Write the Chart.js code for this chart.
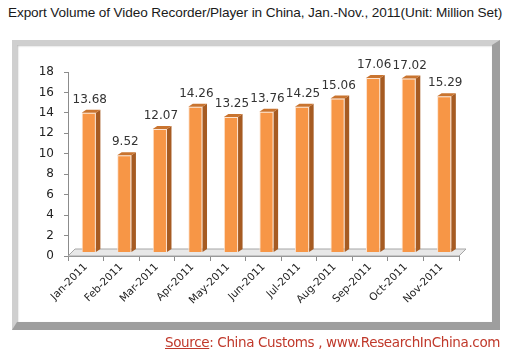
<!DOCTYPE html>
<html><head><meta charset="utf-8">
<script src="https://cdn.jsdelivr.net/npm/chart.js@4"></script>
<style>
html,body{margin:0;padding:0;background:#fff;width:510px;height:356px;overflow:hidden;}
#title{position:absolute;left:8px;top:5px;font:13.6px "Liberation Sans",Arial,sans-serif;color:#1a1a1a;white-space:nowrap;letter-spacing:-0.1px;}
#frame{position:absolute;left:12px;top:40px;width:475px;height:277px;background:#fff;
 border-left:5px solid #cfcfcf;border-top:5px solid #cfcfcf;border-right:8px solid #9e9e9e;border-bottom:8px solid #9e9e9e;
 box-shadow: inset 1px 1px 2px #bdbdbd;}
#src{position:absolute;left:165px;top:334px;font:13.5px "DejaVu Sans",sans-serif;color:#c0392b;white-space:nowrap;letter-spacing:-0.36px;}
#src u{text-decoration:underline;}
#wrap{position:absolute;left:0;top:0;width:510px;height:356px;}
</style></head>
<body>
<div id="title">Export Volume of Video Recorder/Player in China, Jan.-Nov., 2011(Unit: Million Set)</div>
<div id="frame"></div>
<div id="wrap"><canvas id="c" width="510" height="356"></canvas></div>
<div id="src"><u>Source</u>: China Customs , www.ResearchInChina.com</div>
<script>
const categories = ["Jan-2011","Feb-2011","Mar-2011","Apr-2011","May-2011","Jun-2011","Jul-2011","Aug-2011","Sep-2011","Oct-2011","Nov-2011"];
const exportVolume = [13.68, 9.52, 12.07, 14.26, 13.25, 13.76, 14.25, 15.06, 17.06, 17.02, 15.29];
const yTicks = [0,2,4,6,8,10,12,14,16,18];

const DX = 3, DY = 3.5, SIDE = 4.5, TOPH = 3;

const floorPlugin = {
  id: 'floor',
  beforeDatasetsDraw(chart) {
    const a = chart.chartArea, ctx = chart.ctx;
    ctx.save();
    ctx.beginPath();
    ctx.moveTo(a.left, a.bottom);
    ctx.lineTo(a.right, a.bottom);
    ctx.lineTo(a.right + 7, a.bottom - 7);
    ctx.lineTo(a.left + 7, a.bottom - 7);
    ctx.closePath();
    ctx.fillStyle = '#e8e8e8';
    ctx.fill();
    ctx.strokeStyle = '#a6a6a6';
    ctx.lineWidth = 1;
    ctx.stroke();
    ctx.restore();
    ctx.save();
    ctx.translate(DX, -DY);
  },
  afterDatasetsDraw(chart) {
    const ctx = chart.ctx;
    const meta = chart.getDatasetMeta(0);
    meta.data.forEach((bar, i) => {
      const p = bar.getProps(['x','y','base','width'], true);
      const l = p.x - p.width/2, r = p.x + p.width/2;
      ctx.beginPath();
      ctx.moveTo(r, p.y);
      ctx.lineTo(r + SIDE, p.y - TOPH);
      ctx.lineTo(r + SIDE, p.base - TOPH);
      ctx.lineTo(r, p.base);
      ctx.closePath();
      ctx.fillStyle = '#a65b22';
      ctx.fill();
      ctx.beginPath();
      ctx.moveTo(l, p.y);
      ctx.lineTo(l + SIDE, p.y - TOPH);
      ctx.lineTo(r + SIDE, p.y - TOPH);
      ctx.lineTo(r, p.y);
      ctx.closePath();
      ctx.fillStyle = '#c9742f';
      ctx.fill();
      ctx.fillStyle = '#333';
      ctx.font = '12px "DejaVu Sans", sans-serif';
      ctx.textAlign = 'center';
      ctx.textBaseline = 'bottom';
      ctx.fillText(exportVolume[i].toFixed(2), p.x + 1, p.y - 7);
    });
    ctx.restore();
  }
};

new Chart(document.getElementById('c'), {
  type: 'bar',
  data: {
    labels: categories,
    datasets: [{
      data: exportVolume,
      backgroundColor: '#f79646',
      borderColor: '#fde3cf',
      borderWidth: 1,
      barPercentage: 0.4,
      categoryPercentage: 1.0
    }]
  },
  options: {
    responsive: false,
    animation: false,
    devicePixelRatio: 1,
    layout: { padding: { left: 20, right: 51, top: 72, bottom: 0 } },
    plugins: { legend: { display: false }, tooltip: { enabled: false }, title: { display: false } },
    scales: {
      x: {
        offset: true,
        grid: { display: true, drawOnChartArea: false, offset: true, tickLength: 5, color: '#8c8c8c' },
        border: { display: true, color: '#8c8c8c' },
        ticks: { minRotation: 45, maxRotation: 45, color: '#222', font: { family: '"DejaVu Sans", sans-serif', size: 10.5 }, padding: 0 },
        afterFit(s) { s.height = 100; }
      },
      y: {
        min: 0, max: 18,
        afterBuildTicks(s) { s.ticks = yTicks.map(v => ({ value: v })); },
        grid: { display: true, drawOnChartArea: false, tickLength: 4, color: '#8c8c8c' },
        border: { display: true, color: '#8c8c8c' },
        ticks: { color: '#222', font: { family: '"DejaVu Sans", sans-serif', size: 12 }, padding: 10 },
        afterFit(s) { s.width = 48; }
      }
    }
  },
  plugins: [floorPlugin]
});
</script>
</body></html>
